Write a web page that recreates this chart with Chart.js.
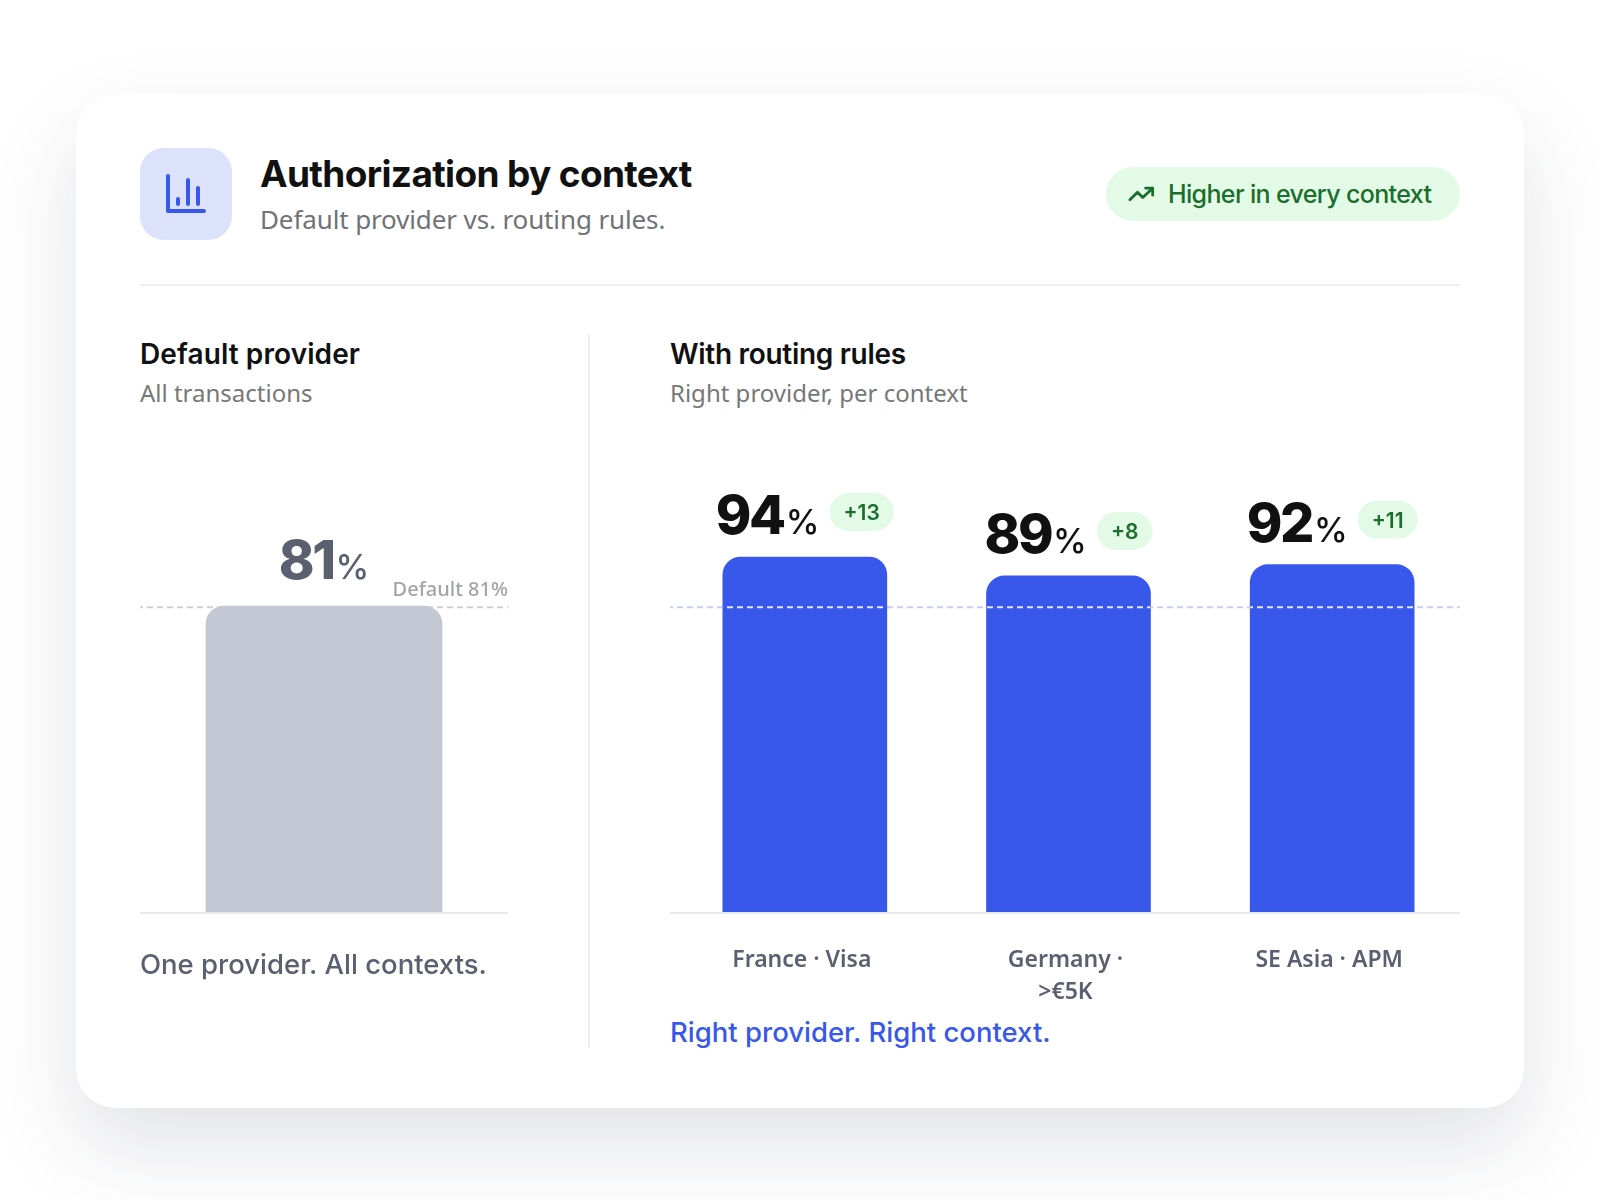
<!DOCTYPE html>
<html lang="en">
<head>
  <meta charset="UTF-8">
  <title>Authorization by context</title>
  <script src="https://cdn.jsdelivr.net/npm/chart.js"></script>
  <style>
    html, body { margin: 0; background: #fff; }
    body { width: 1600px; height: 1200px; position: relative; overflow: hidden; font-family: "Noto Sans", sans-serif; }
    .card { position: absolute; left: 76px; top: 94px; width: 1448px; height: 1014px; background: #fff; border-radius: 40px; box-shadow: 0 40px 90px rgba(30, 40, 70, .13); }
    .abs { position: absolute; white-space: nowrap; }
    #icon { left: 140px; top: 148px; width: 92px; height: 92px; border-radius: 24px; background: #dce2fb; }
    #title { left: 260px; top: 152px; font: 700 37px/44px Inter, sans-serif; letter-spacing: -.65px; color: #111; }
    #sub { left: 260px; top: 201px; font-size: 26px; line-height: 36px; letter-spacing: -.12px; color: #707276; }
    #pill { left: 1106px; top: 167px; width: 354px; height: 54px; border-radius: 27px; background: #e3fbe6; }
    #pillText { left: 1168px; top: 176px; font: 550 25px/36px Inter, sans-serif; letter-spacing: -.65px; color: #1b6e2c; }
    #rule { left: 140px; top: 284px; width: 1320px; height: 2px; background: #eeeff0; }
    #vrule { left: 588px; top: 334px; width: 2px; height: 714px; background: #eeeff0; }
    .secTitle { font: 600 28px/36px Inter, sans-serif; color: #111; top: 336px; }
    .secSub { font-size: 24px; line-height: 32px; color: #767878; top: 377px; }
    .note { font: 550 27.5px/36px Inter, sans-serif; letter-spacing: 0; }
    canvas { position: absolute; }
  </style>
</head>
<body>
  <div class="card"></div>
  <div class="abs" id="icon"></div>
  <svg class="abs" style="left:140px;top:148px" width="92" height="92" fill="none" stroke="#3858ec" stroke-width="4" stroke-linecap="round" stroke-linejoin="round">
    <path d="M28 28V63H64M38 56V51M48 56V32M58 56V40"/>
  </svg>
  <div class="abs" id="title">Authorization by context</div>
  <div class="abs" id="sub">Default provider vs. routing rules.</div>
  <div class="abs" id="pill"></div>
  <svg class="abs" style="left:1127px;top:180px" width="28" height="28" viewBox="0 0 24 24" fill="none" stroke="#1b6e2c" stroke-width="2.4" stroke-linecap="round" stroke-linejoin="round">
    <path d="M2.500 17L9 10.500 13.500 15 22 7M16 7H22V13"/>
  </svg>
  <div class="abs" id="pillText">Higher in every context</div>
  <div class="abs" id="rule"></div>
  <div class="abs" id="vrule"></div>

  <div class="abs secTitle" style="left:140px;letter-spacing:.1px">Default provider</div>
  <div class="abs secSub" style="left:140px">All transactions</div>
  <div class="abs secTitle" style="left:670px;letter-spacing:-.3px">With routing rules</div>
  <div class="abs secSub" style="left:670px">Right provider, per context</div>

  <canvas id="leftChart" style="left:140px;top:474px" width="368" height="538"></canvas>
  <canvas id="rightChart" style="left:670px;top:474px" width="794" height="538"></canvas>

  <div class="abs note" style="left:140px;top:946px;color:#5b6070">One provider. All contexts.</div>
  <div class="abs note" style="left:670px;top:1014px;color:#3858ec">Right provider. Right context.</div>

  <script>
    const defaultLabels = ['All transactions'];
    const defaultValues = [81];
    const routedLabels = [['France · Visa'], ['Germany ·', '>€5K'], ['SE Asia · APM']];
    const routedValues = [94, 89, 92];
    const upliftLabels = ['+13', '+8', '+11'];
    const referenceValue = 81;

    const BLUE = '#3858ec', GRAY = '#c4c8d5', GREEN = '#1b6e2c', MINT = '#e3fbe6';

    function refLine(ctx, y, o) {
      ctx.lineWidth = 2;
      ctx.setLineDash([6, 4]);
      ctx.lineDashOffset = 3;
      ctx.beginPath();
      ctx.moveTo(0, y + 1);
      ctx.lineTo(o.lineEnd, y + 1);
      ctx.stroke();
    }

    // reference line, baseline and the value labels above each bar
    const decorate = {
      id: 'decorate',
      beforeDatasetsDraw(chart, args, o) {
        const ctx = chart.ctx, y = chart.scales.y;
        ctx.save();
        ctx.fillStyle = '#e8e9eb';
        ctx.fillRect(0, y.getPixelForValue(0), o.lineEnd, 2);
        ctx.strokeStyle = o.lineColor;
        refLine(ctx, y.getPixelForValue(referenceValue), o);
        ctx.restore();
      },
      afterDatasetsDraw(chart, args, o) {
        const ctx = chart.ctx, y = chart.scales.y;
        const bars = chart.getDatasetMeta(0).data;
        ctx.save();
        // dashes stay visible on top of the bars
        if (o.overBar) {
          ctx.beginPath();
          bars.forEach(b => ctx.rect(b.x - b.width / 2, b.y, b.width, b.base - b.y));
          ctx.clip();
          ctx.strokeStyle = o.overBar;
          refLine(ctx, y.getPixelForValue(referenceValue), o);
        }
        ctx.restore();

        ctx.save();
        ctx.textBaseline = 'alphabetic';
        bars.forEach((b, i) => {
          const value = String(chart.data.datasets[0].data[i]);
          const base = b.y - o.labelGap;
          ctx.font = '800 54px Inter';
          ctx.letterSpacing = '-2.5px';
          const w1 = ctx.measureText(value).width;
          ctx.font = '500 34px Inter';
          ctx.letterSpacing = '0px';
          const w2 = ctx.measureText('%').width;
          let badgeW = 0;
          const up = o.uplift && o.uplift[i];
          if (up) {
            ctx.font = '600 21px Inter';
            badgeW = ctx.measureText(up).width + 28;
          }
          const total = w1 + 2 + w2 + (up ? 10 + badgeW : 0);
          let x = b.x - total / 2;
          ctx.fillStyle = o.textColor;
          ctx.textAlign = 'left';
          ctx.font = '800 54px Inter';
          ctx.letterSpacing = '-2.5px';
          ctx.fillText(value, x, base);
          x += w1 + 2;
          ctx.font = '500 34px Inter';
          ctx.letterSpacing = '0px';
          ctx.fillText('%', x, base);
          x += w2 + 10;
          if (up) {
            const top = b.y - 64;
            ctx.fillStyle = MINT;
            ctx.beginPath();
            ctx.roundRect(x, top, badgeW, 38, 19);
            ctx.fill();
            ctx.fillStyle = GREEN;
            ctx.font = '600 21px Inter';
            ctx.textAlign = 'center';
            ctx.fillText(up, x + badgeW / 2, top + 27);
          }
        });
        if (o.caption) {
          ctx.fillStyle = '#a3a4a6';
          ctx.font = '500 20px "Noto Sans"';
          ctx.textAlign = 'right';
          ctx.fillText(o.caption, o.lineEnd, y.getPixelForValue(referenceValue) - 10);
        }
        ctx.restore();
      }
    };

    function makeChart(id, labels, values, color, thickness, radius, paddingLeft, decorateOpts) {
      return new Chart(document.getElementById(id), {
        type: 'bar',
        data: { labels, datasets: [{ data: values, backgroundColor: color, barThickness: thickness, borderSkipped: 'bottom', borderRadius: { topLeft: radius, topRight: radius, bottomLeft: 0, bottomRight: 0 } }] },
        plugins: [decorate],
        options: {
          responsive: false,
          animation: false,
          layout: { padding: { top: 60.4, left: paddingLeft } },
          plugins: { legend: { display: false }, tooltip: { enabled: false }, decorate: decorateOpts },
          scales: {
            y: { display: false, min: 0, max: 100 },
            x: {
              grid: { display: false, drawTicks: false },
              border: { display: false },
              afterFit(scale) { scale.height = 100; },
              ticks: {
                display: decorateOpts.showTicks,
                autoSkip: false,
                maxRotation: 0,
                padding: 32,
                labelOffset: -paddingLeft,
                color: '#5b6070',
                font: { family: '"Noto Sans"', size: 23, weight: '600', lineHeight: 1.4 }
              }
            }
          }
        }
      });
    }

    makeChart('leftChart', defaultLabels, defaultValues, GRAY, 236, 18, 0, {
      lineEnd: 368, lineColor: '#cfcfd2', labelGap: 27, textColor: '#5b6070',
      caption: 'Default 81%', showTicks: false
    });
    makeChart('rightChart', routedLabels, routedValues, BLUE, 164, 18, 3, {
      lineEnd: 790, lineColor: '#c6cffa', overBar: 'rgba(255,255,255,.85)', labelGap: 23, textColor: '#111',
      uplift: upliftLabels, showTicks: true
    });
  </script>
</body>
</html>
